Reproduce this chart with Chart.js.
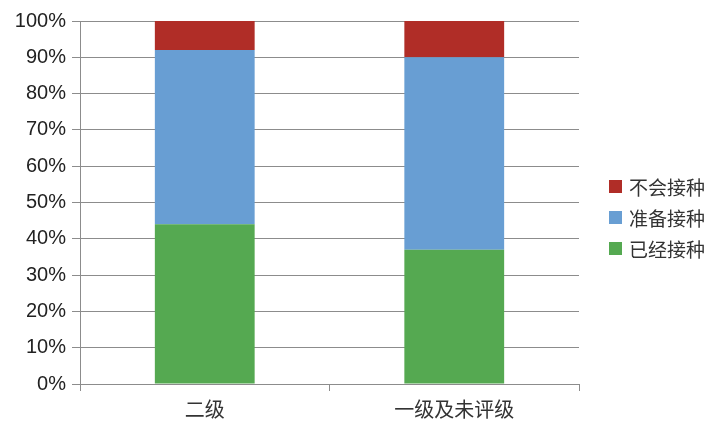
<!DOCTYPE html>
<html>
<head>
<meta charset="utf-8">
<script src="https://cdn.jsdelivr.net/npm/chart.js@4"></script>
<style>
html,body{margin:0;padding:0;background:#fff;}
#wrap{width:727px;height:435px;}
</style>
</head>
<body>
<div id="wrap"><canvas id="idGrafica" width="727" height="435"></canvas></div>
<script>
// datos
var categorias=['二级','一级及未评级'];
var yaJecutado=[44,37];     // 已经接种
var preparando=[48,53];     // 准备接种
var noVacunara=[8,10];      // 不会接种
var etiquetasSerie=['已经接种','准备接种','不会接种'];
var ticksY=[0,10,20,30,40,50,60,70,80,90,100];

var colores=['#55a951','#689ed3','#b02d27'];
var fuenteCJK='"Noto Sans CJK SC","Noto Sans",sans-serif';
var fuenteNum='"Liberation Sans","DejaVu Sans",sans-serif';

// leyenda a mano (orden invertido como en la original)
var leyenda={
    id:'leyenda',
    afterDraw:function(chart){
        var ctx=chart.ctx;
        var ds=chart.data.datasets;
        ctx.save();
        ctx.font='19px '+fuenteCJK;
        ctx.textBaseline='middle';
        var y0=187;
        for(var k=0;k<ds.length;k++){
            var d=ds[ds.length-1-k];
            var y=y0+k*31;
            ctx.fillStyle=d.backgroundColor;
            ctx.fillRect(609,y-7,13,13);
            ctx.fillStyle='#333';
            ctx.fillText(d.label,629,y+1);
        }
        ctx.restore();
    }
};

var ctx=document.getElementById('idGrafica').getContext('2d');
var mychart=new Chart(ctx,{
    type:'bar',
    data:{
        labels:categorias,
        datasets:[
            {label:etiquetasSerie[0],data:yaJecutado,backgroundColor:colores[0]},
            {label:etiquetasSerie[1],data:preparando,backgroundColor:colores[1]},
            {label:etiquetasSerie[2],data:noVacunara,backgroundColor:colores[2]}
        ]
    },
    options:{
        responsive:false,
        animation:false,
        devicePixelRatio:1,
        layout:{padding:{top:21,right:148,left:0,bottom:0}},
        plugins:{legend:{display:false},tooltip:{enabled:false}},
        datasets:{bar:{categoryPercentage:1,barPercentage:0.4,borderWidth:0}},
        scales:{
            x:{
                stacked:true,
                afterFit:function(s){s.height=51;},
                grid:{offset:true,drawOnChartArea:false,drawTicks:true,tickLength:7,color:'#8c8c8c'},
                border:{display:true,color:'#8c8c8c'},
                ticks:{font:{family:fuenteCJK,size:20},color:'#333',padding:6}
            },
            y:{
                stacked:true,
                min:0,max:100,
                afterFit:function(s){s.width=80;},
                afterBuildTicks:function(s){s.ticks=ticksY.map(function(v){return {value:v};});},
                grid:{color:'#8c8c8c',tickLength:8},
                border:{display:true,color:'#8c8c8c'},
                ticks:{
                    font:{family:fuenteNum,size:20},color:'#222',padding:6,
                    callback:function(v){return v+'%';}
                }
            }
        }
    },
    plugins:[leyenda]
});
</script>
</body>
</html>
